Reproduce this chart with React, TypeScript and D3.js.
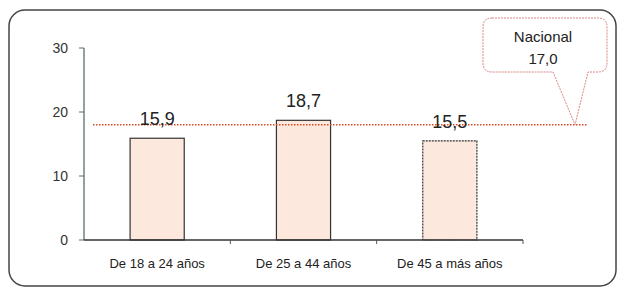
import React, { useEffect, useRef } from 'react';
import * as d3 from 'd3';

const categories = ['De 18 a 24 años', 'De 25 a 44 años', 'De 45 a más años'];
const values = [15.9, 18.7, 15.5];
const valueLabels = ['15,9', '18,7', '15,5'];
const yTicks = [0, 10, 20, 30];
// the dotted national line sits at this level in the picture
const nationalLevel = 18;
const nationalLabel = ['Nacional', '17,0'];

const font = '"Liberation Sans", Arial, sans-serif';

function Chart() {
  const ref = useRef<SVGSVGElement>(null);

  useEffect(() => {
    const svg = d3.select(ref.current);
    svg.selectAll('*').remove();

    const x = d3.scaleBand<string>()
      .domain(categories)
      .range([84, 523])
      .paddingInner(0.63)
      .paddingOuter(0.315);

    const y = d3.scaleLinear().domain([0, 30]).range([240, 48]);

    // outer frame
    svg.append('rect')
      .attr('x', 9).attr('y', 10)
      .attr('width', 607).attr('height', 276)
      .attr('rx', 16)
      .attr('fill', 'white')
      .attr('stroke', '#444')
      .attr('stroke-width', 1.5);

    // y axis
    svg.append('line')
      .attr('x1', 84).attr('x2', 84)
      .attr('y1', y(30)).attr('y2', y(0))
      .attr('stroke', '#6b857e')
      .attr('stroke-width', 1.5);

    const yt = svg.append('g');
    yt.selectAll('line')
      .data(yTicks)
      .join('line')
        .attr('x1', 79).attr('x2', 84)
        .attr('y1', d => y(d)).attr('y2', d => y(d))
        .attr('stroke', '#666');
    yt.selectAll('text')
      .data(yTicks)
      .join('text')
        .attr('x', 68)
        .attr('y', d => y(d) + 5)
        .attr('text-anchor', 'end')
        .attr('font-family', font)
        .attr('font-size', 14)
        .attr('fill', '#333')
        .text(d => d);

    // bars
    svg.append('g')
      .selectAll('rect')
      .data(values)
      .join('rect')
        .attr('x', (d, i) => x(categories[i])!)
        .attr('y', d => y(d))
        .attr('width', x.bandwidth())
        .attr('height', d => y(0) - y(d))
        .attr('fill', '#fce8dc')
        .attr('stroke', '#333')
        .attr('stroke-width', 1.2)
        .attr('stroke-dasharray', (d, i) => i === 2 ? '2,1' : null);

    // x axis
    svg.append('line')
      .attr('x1', 84).attr('x2', 523)
      .attr('y1', y(0)).attr('y2', y(0))
      .attr('stroke', '#333')
      .attr('stroke-width', 1.5);

    svg.append('g')
      .selectAll('line')
      .data(categories)
      .join('line')
        .attr('x1', d => x(d)! + x.bandwidth() / 2 + x.step() / 2)
        .attr('x2', d => x(d)! + x.bandwidth() / 2 + x.step() / 2)
        .attr('y1', y(0)).attr('y2', y(0) + 4)
        .attr('stroke', '#555');

    svg.append('g')
      .selectAll('text')
      .data(categories)
      .join('text')
        .attr('x', d => x(d)! + x.bandwidth() / 2)
        .attr('y', 268)
        .attr('text-anchor', 'middle')
        .attr('font-family', font)
        .attr('font-size', 13)
        .attr('fill', '#222')
        .text(d => d);

    // national reference line
    svg.append('line')
      .attr('x1', 93).attr('x2', 588)
      .attr('y1', y(nationalLevel)).attr('y2', y(nationalLevel))
      .attr('stroke', '#d94a22')
      .attr('stroke-width', 1.5)
      .attr('stroke-dasharray', '1.5,1.5');

    // value labels
    svg.append('g')
      .selectAll('text')
      .data(values)
      .join('text')
        .attr('x', (d, i) => x(categories[i])! + x.bandwidth() / 2)
        .attr('y', d => y(d) - 13)
        .attr('text-anchor', 'middle')
        .attr('font-family', font)
        .attr('font-size', 18)
        .attr('fill', '#222')
        .text((d, i) => valueLabels[i]);

    // callout
    const bx0 = 483, bx1 = 607, by0 = 18, by1 = 72, r = 9;
    const tipX = 575, tipY = y(nationalLevel);
    const p = d3.path();
    p.moveTo(bx0 + r, by0);
    p.lineTo(bx1 - r, by0);
    p.quadraticCurveTo(bx1, by0, bx1, by0 + r);
    p.lineTo(bx1, by1 - r);
    p.quadraticCurveTo(bx1, by1, bx1 - r, by1);
    p.lineTo(588, by1);
    p.lineTo(tipX, tipY);
    p.lineTo(553, by1);
    p.lineTo(bx0 + r, by1);
    p.quadraticCurveTo(bx0, by1, bx0, by1 - r);
    p.lineTo(bx0, by0 + r);
    p.quadraticCurveTo(bx0, by0, bx0 + r, by0);
    p.closePath();
    svg.append('path')
      .attr('d', p.toString())
      .attr('fill', 'white')
      .attr('stroke', '#d98585')
      .attr('stroke-width', 1)
      .attr('stroke-dasharray', '2,1');

    svg.append('g')
      .selectAll('text')
      .data(nationalLabel)
      .join('text')
        .attr('x', 543)
        .attr('y', (d, i) => 42 + i * 22)
        .attr('text-anchor', 'middle')
        .attr('font-family', font)
        .attr('font-size', 15)
        .attr('fill', '#222')
        .text(d => d);
  }, []);

  return (
    <svg
      ref={ref}
      width={620}
      height={288}
      style={{ position: 'absolute', left: 0, top: 0, background: 'white' }}
    />
  );
}

export default function App() {
  return <Chart />;
}
